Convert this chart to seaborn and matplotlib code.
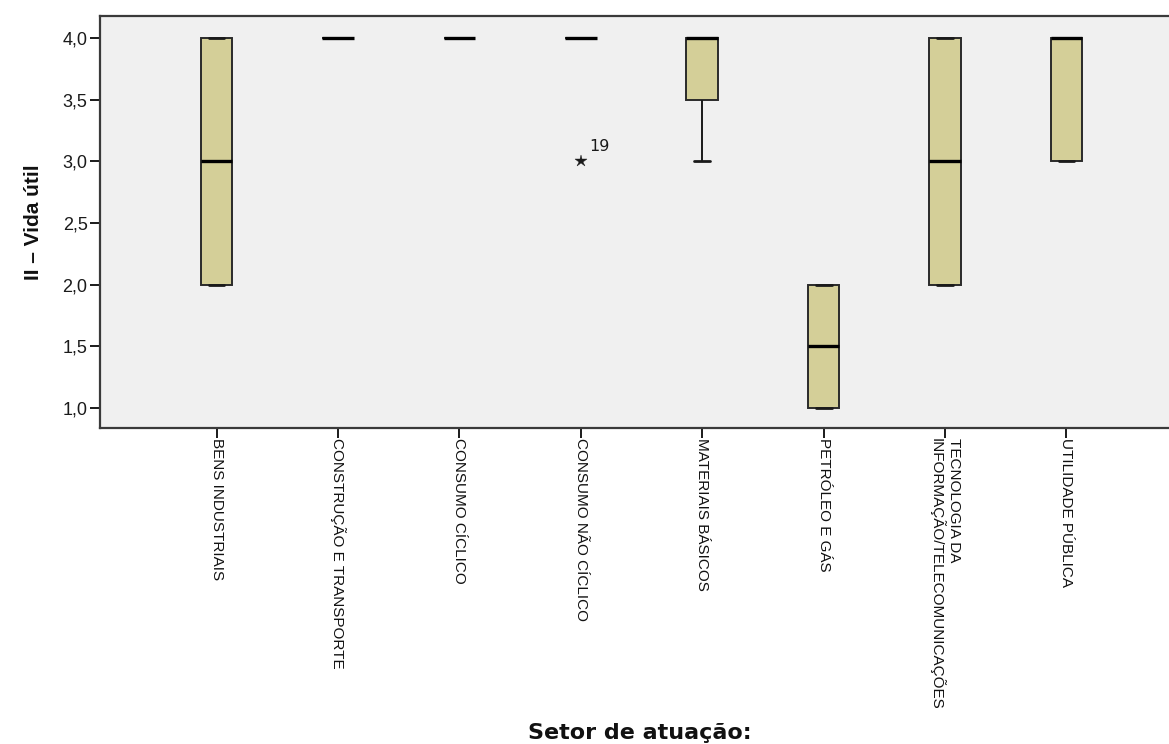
import numpy as np
import pandas as pd
import matplotlib
matplotlib.use("Agg")
import matplotlib.pyplot as plt
from matplotlib.ticker import FuncFormatter, FixedLocator
import seaborn as sns

# Sectors and the scores ("II - Vida útil") of the companies in each one
sectors = [
    "BENS INDUSTRIAIS",
    "CONSTRUÇÃO E TRANSPORTE",
    "CONSUMO CÍCLICO",
    "CONSUMO NÃO CÍCLICO",
    "MATERIAIS BÁSICOS",
    "PETRÓLEO E GÁS",
    "TECNOLOGIA DA\nINFORMAÇÃO/TELECOMUNICAÇÕES",
    "UTILIDADE PÚBLICA",
]
bens_industriais = [2, 2, 3, 4, 4]
construcao_transporte = [4, 4, 4]
consumo_ciclico = [4, 4, 4, 4]
consumo_nao_ciclico = [4, 4, 4, 4, 4, 3]
materiais_basicos = [3, 4, 4]
petroleo_gas = [1, 1, 2, 2]
tecnologia_info = [2, 2, 3, 4, 4]
utilidade_publica = [3, 3, 4, 4, 4]

# Extreme case flagged in the non-cyclical consumer sector
outlier_sector = 3
outlier_value = 3.0
outlier_case = "19"

yticks = [1.0, 1.5, 2.0, 2.5, 3.0, 3.5, 4.0]

groups = [bens_industriais, construcao_transporte, consumo_ciclico,
          consumo_nao_ciclico, materiais_basicos, petroleo_gas,
          tecnologia_info, utilidade_publica]
df = pd.DataFrame({
    "setor": [s for s, g in zip(sectors, groups) for _ in g],
    "valor": [v for g in groups for v in g],
})

sns.set_theme(style="white")
plt.rcParams["font.family"] = ["Liberation Sans", "DejaVu Sans"]

fig = plt.figure(figsize=(11.69, 7.44), dpi=100)
ax = fig.add_axes([100 / 1169, 1 - 428 / 744, 1100 / 1169, 412 / 744])
ax.set_facecolor("#f0f0f0")

box_color = "#d4cf98"
sns.boxplot(
    data=df, x="setor", y="valor", order=sectors, ax=ax,
    color=box_color, width=0.26, linecolor="#1a1a1a", linewidth=1.4,
    saturation=1, whis=1.5,
    medianprops=dict(color="black", linewidth=2.4),
    boxprops=dict(edgecolor="#2a2a2a", facecolor=box_color),
    whiskerprops=dict(color="#1a1a1a", linewidth=1.4),
    capprops=dict(color="#1a1a1a", linewidth=2.0),
    flierprops=dict(marker="*", markersize=9, markerfacecolor="#1a1a1a",
                    markeredgecolor="#1a1a1a", markeredgewidth=0.3),
)

ax.annotate(outlier_case, xy=(outlier_sector, outlier_value),
            xytext=(6, 5), textcoords="offset points",
            fontsize=11.5, color="#1a1a1a", ha="left", va="bottom",
            family=["DejaVu Sans"])

ax.set_xlim(-0.96, 8.1)
ax.set_ylim(0.838, 4.178)
ax.yaxis.set_major_locator(FixedLocator(yticks))
ax.yaxis.set_major_formatter(FuncFormatter(lambda v, p: f"{v:.1f}".replace(".", ",")))

for side in ["top", "bottom", "left", "right"]:
    ax.spines[side].set_color("#3a3a3a")
    ax.spines[side].set_linewidth(1.6)

ax.tick_params(axis="both", which="major", direction="out", length=7,
               width=1.4, color="#1a1a1a", left=True, bottom=True)
ax.tick_params(axis="y", labelsize=13, pad=2, labelcolor="#1a1a1a")
ax.tick_params(axis="x", pad=0)

ax.set_xticks(range(len(sectors)))
ax.set_xticklabels(sectors, rotation=270, ha="center", va="top",
                   multialignment="left", fontsize=11,
                   family=["Liberation Sans Narrow", "Liberation Sans"],
                   color="#111111")

ax.set_ylabel("II – Vida útil", fontsize=15, fontweight="bold",
              labelpad=14, color="#111111")
ax.set_xlabel("Setor de atuação:", fontsize=16, fontweight="bold",
              family=["DejaVu Sans"], color="#111111")
ax.xaxis.set_label_coords((640 - 100) / 1100, (428 - 733) / 412)
ax.xaxis.label.set_va("center")

fig.savefig("out.png", dpi=100, facecolor="white")
